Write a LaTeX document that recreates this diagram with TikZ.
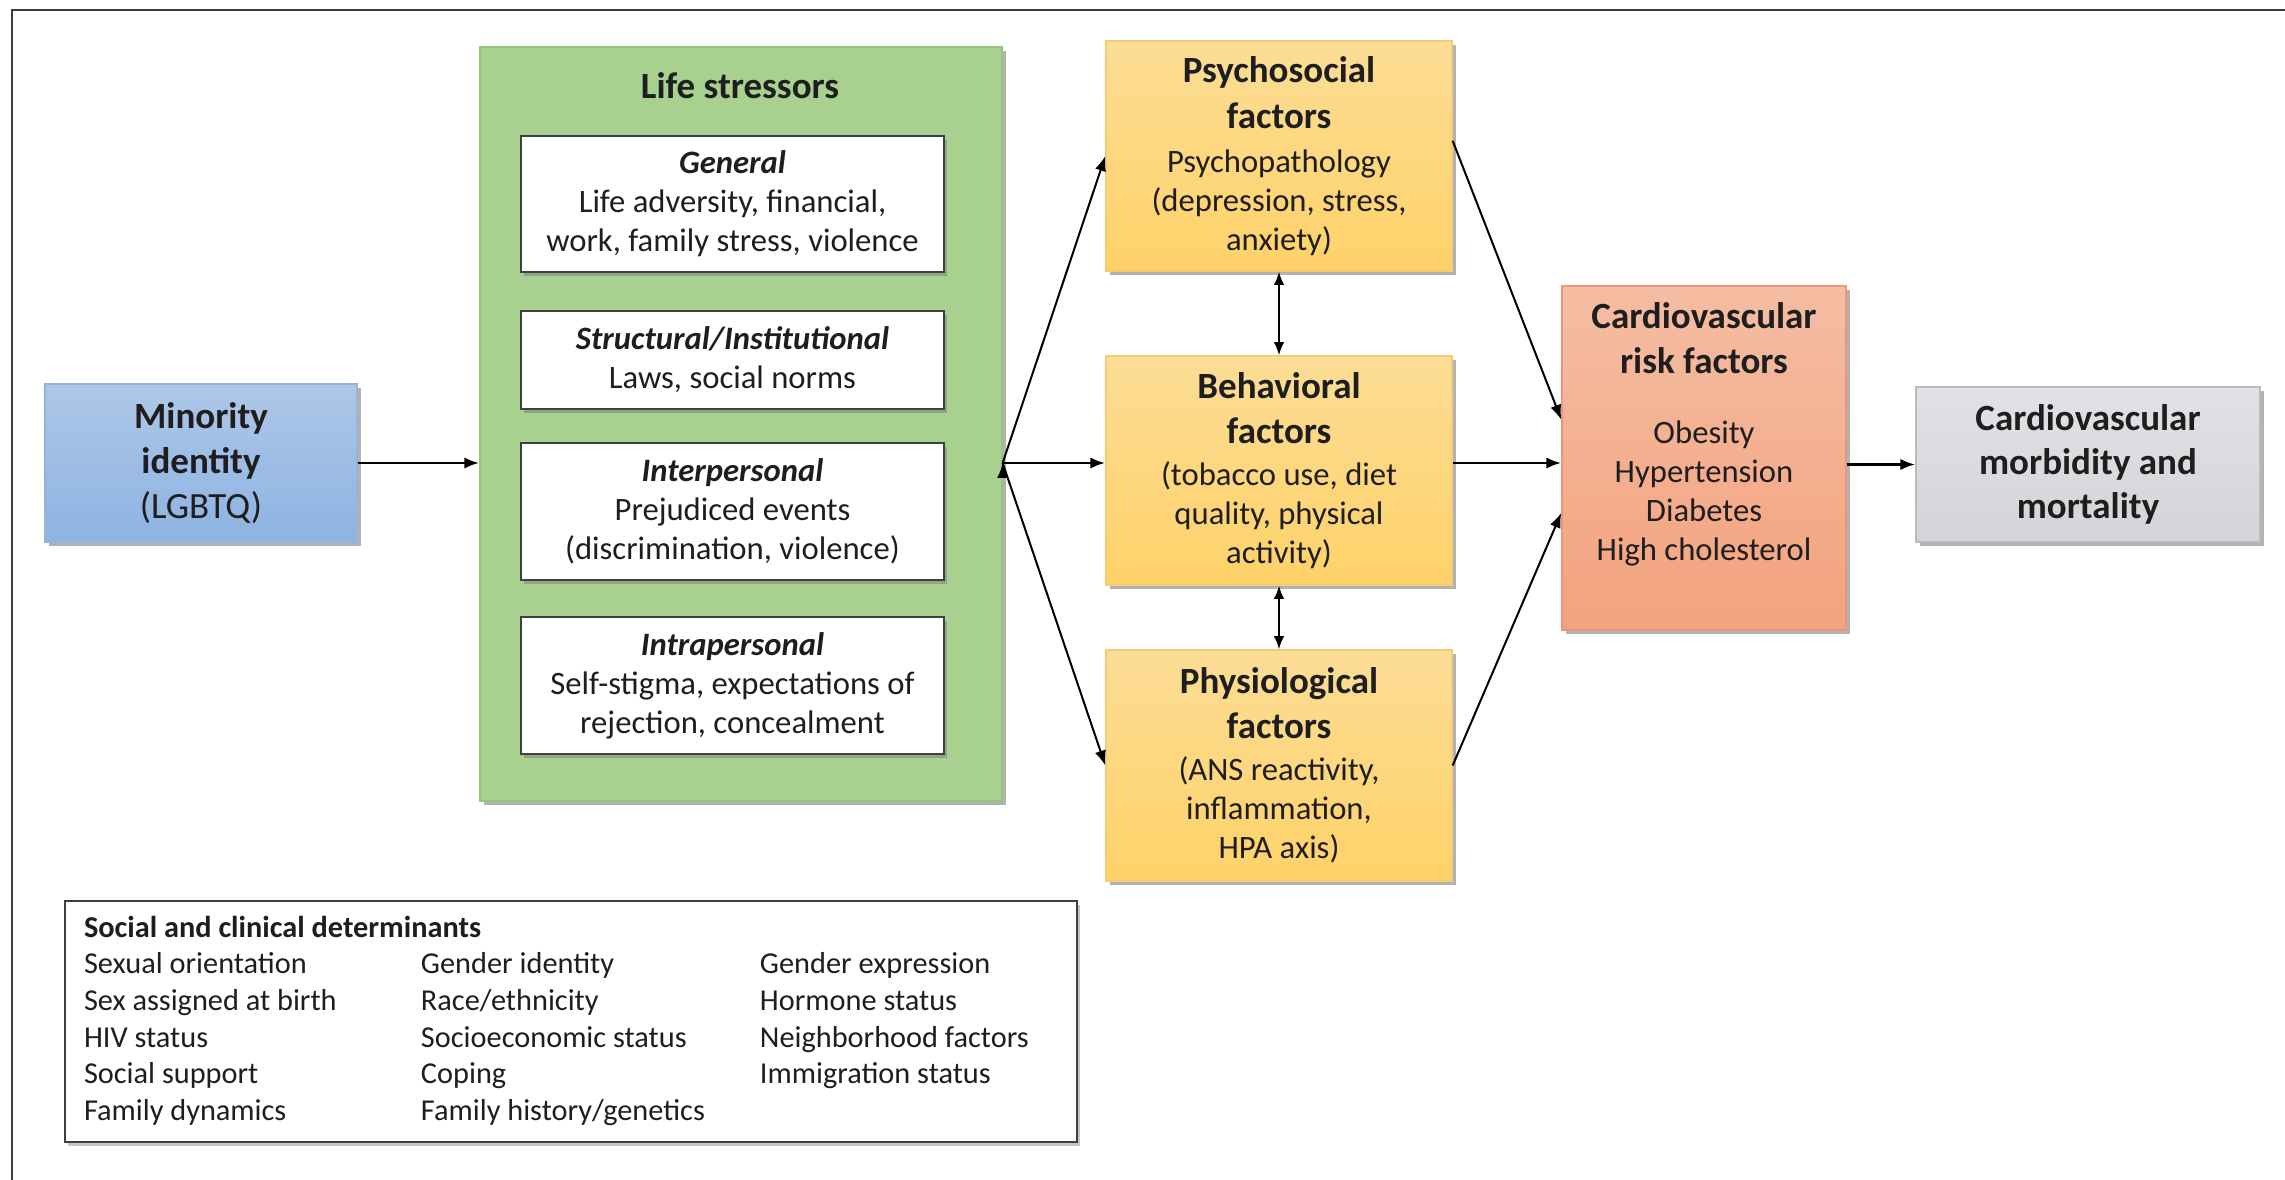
\documentclass[tikz,border=0pt]{standalone}
\usepackage{fontspec}
\setmainfont{Carlito}
\usetikzlibrary{arrows.meta,shadows}

\definecolor{inkgray}{RGB}{30,30,30}
\definecolor{frameline}{RGB}{60,60,60}
\definecolor{bluetop}{RGB}{174,199,232}
\definecolor{bluebot}{RGB}{141,179,226}
\definecolor{blueedge}{RGB}{150,180,215}
\definecolor{stressgreen}{RGB}{168,208,142}
\definecolor{greenedge}{RGB}{152,196,128}
\definecolor{ambertop}{RGB}{252,221,150}
\definecolor{amberbot}{RGB}{255,210,104}
\definecolor{amberedge}{RGB}{245,203,115}
\definecolor{salmontop}{RGB}{245,189,163}
\definecolor{salmonbot}{RGB}{243,162,126}
\definecolor{salmonedge}{RGB}{232,152,118}
\definecolor{greytop}{RGB}{224,226,229}
\definecolor{greybot}{RGB}{210,212,215}
\definecolor{greyedge}{RGB}{185,187,190}

\newcommand{\boxhead}[1]{\textbf{\fontsize{11.1}{13.6}\selectfont #1}}

\begin{document}
\begin{tikzpicture}
  [x=0.3pt,y=-0.3pt,
   every node/.style={align=center, text=inkgray, inner sep=0pt,
     font=\fontsize{9.8}{11.7}\selectfont},
   softshadow/.style={drop shadow={shadow xshift=1.2pt, shadow yshift=-1.2pt,
     opacity=0.3, fill=black}},
   idbox/.style={softshadow, draw=blueedge, line width=0.4pt,
     top color=bluetop, bottom color=bluebot,
     minimum width=93.6pt, minimum height=47.4pt,
     font=\fontsize{11.1}{13.6}\selectfont},
   stressbox/.style={softshadow, draw=greenedge, line width=0.4pt, fill=stressgreen,
     minimum width=156.6pt, minimum height=226.2pt},
   kindbox/.style={drop shadow={shadow xshift=0.9pt, shadow yshift=-1.1pt, opacity=0.55},
     draw=inkgray!85, line width=0.8pt, fill=white, minimum width=126.9pt},
   factorbox/.style={softshadow, draw=amberedge, line width=0.4pt,
     top color=ambertop, bottom color=amberbot, minimum width=103.8pt},
   riskbox/.style={softshadow, draw=salmonedge, line width=0.4pt,
     top color=salmontop, bottom color=salmonbot,
     minimum width=85.2pt, minimum height=103.2pt},
   outcomebox/.style={softshadow, draw=greyedge, line width=0.4pt,
     top color=greytop, bottom color=greybot,
     minimum width=103.2pt, minimum height=46.5pt,
     font=\fontsize{11.1}{13.1}\selectfont\bfseries},
   notebox/.style={drop shadow={shadow xshift=1pt, shadow yshift=-1.2pt, opacity=0.45},
     draw=inkgray!85, line width=0.8pt, fill=white,
     minimum width=303.6pt, minimum height=72.3pt,
     font=\fontsize{9.1}{11}\selectfont},
   link/.style={-{Latex[length=4.5pt,width=3.4pt]}, line width=0.6pt, draw=black},
   mainlink/.style={link, line width=0.85pt},
   twoway/.style={{Latex[length=4pt,width=3.2pt]}-{Latex[length=4pt,width=3.2pt]},
     line width=0.6pt, draw=black}]

  \useasboundingbox (0,0) rectangle (2285,1180);
  \clip (0,0) rectangle (2285,1180);
  \fill[white] (0,0) rectangle (2285,1180);
  \draw[frameline, line width=0.8pt] (12,10) rectangle (2320,1210);

  % boxes
  \node[idbox] (minority) at (201,463) {\textbf{Minority}\\\textbf{identity}\\(LGBTQ)};

  \node[stressbox] (stress) at (741,424) {};
  \node[font=\fontsize{11.1}{13.6}\selectfont\bfseries] (stresshead) at (740,86) {Life stressors};
  \node[kindbox, minimum height=40.8pt] (general) at (732.5,204)
    {\textbf{\textit{General}}\\Life adversity, financial,\\work, family stress, violence};
  \node[kindbox, minimum height=29.4pt] (structural) at (732.5,360)
    {\textbf{\textit{Structural/Institutional}}\\Laws, social norms};
  \node[kindbox, minimum height=41.1pt] (interpersonal) at (732.5,511.5)
    {\textbf{\textit{Interpersonal}}\\Prejudiced events\\(discrimination, violence)};
  \node[kindbox, minimum height=41.1pt] (intrapersonal) at (732.5,685.5)
    {\textbf{\textit{Intrapersonal}}\\Self-stigma, expectations of\\rejection, concealment};

  \node[factorbox, minimum height=69pt] (psych) at (1279,156)
    {\boxhead{Psychosocial}\\[1.9pt]\boxhead{factors}\\[1.5pt]Psychopathology\\(depression, stress,\\anxiety)};
  \node[factorbox, minimum height=68.7pt] (behav) at (1279,470.5)
    {\boxhead{Behavioral}\\[1.9pt]\boxhead{factors}\\[0.8pt](tobacco use, diet\\quality, physical\\activity)};
  \node[factorbox, minimum height=69.3pt] (physio) at (1279,765.5)
    {\boxhead{Physiological}\\[1.8pt]\boxhead{factors}\\[0.9pt](ANS reactivity,\\inflammation,\\HPA axis)};

  \node[riskbox] (cvrisk) at (1704,458)
    {\boxhead{Cardiovascular}\\[1.8pt]\boxhead{risk factors}\\[9.3pt]Obesity\\Hypertension\\Diabetes\\High cholesterol\\[4pt]\mbox{}};

  \node[outcomebox] (outcome) at (2088,464.5) {Cardiovascular\\morbidity and\\mortality};

  \node[notebox] (determ) at (571,1021.5)
    {\begin{tabular}{@{}p{101.1pt}@{}p{101.7pt}@{}p{89.4pt}@{}}
       \multicolumn{3}{@{}l@{}}{\textbf{Social and clinical determinants}}\\
       Sexual orientation & Gender identity & Gender expression\\
       Sex assigned at birth & Race/ethnicity & Hormone status\\
       HIV status & Socioeconomic status & Neighborhood factors\\
       Social support & Coping & Immigration status\\
       Family dynamics & Family history/genetics &
     \end{tabular}};

  % connectors
  \draw[mainlink] (minority.east) -- (minority.east -| stress.west);
  \coordinate (fan) at (stress.east |- minority.east);
  \path[link]
    (fan) edge (psych.west)
    (fan) edge[mainlink] (fan -| behav.west)
    (fan) edge (physio.west);
  \draw[twoway] (psych.south) -- (behav.north);
  \draw[twoway] (behav.south) -- (physio.north);
  \draw[link] (psych.5) -- (cvrisk.165);
  \draw[mainlink] (behav.east |- fan) -- (cvrisk.west |- fan);
  \draw[link] (physio.east) -- (cvrisk.201);
  \draw[mainlink] (cvrisk.east |- outcome.west) -- (outcome.west);
\end{tikzpicture}
\end{document}
